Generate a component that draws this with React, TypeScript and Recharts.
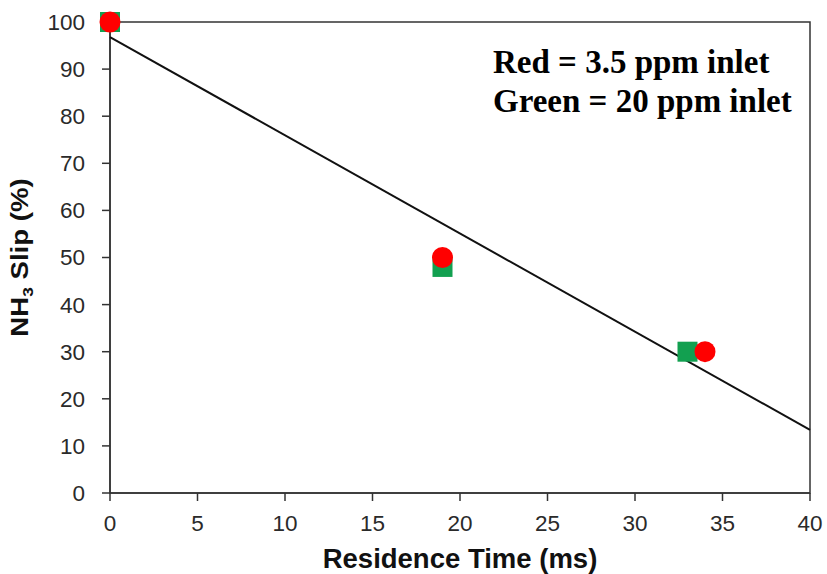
import { ScatterChart, Scatter, XAxis, YAxis, ReferenceArea } from "recharts";

// measured points
const redX = [0, 19, 34];
const redY = [100, 50, 30];
const greenX = [0, 19, 33];
const greenY = [100, 48, 30];
// linear fit line end points
const fitX = [0, 40];
const fitY = [96.8, 13.4];

const xTicks = [0, 5, 10, 15, 20, 25, 30, 35, 40];
const yTicks = [0, 10, 20, 30, 40, 50, 60, 70, 80, 90, 100];

const zip = (xs: number[], ys: number[]) => xs.map((x, i) => ({ x, y: ys[i] }));

const AXIS = "#333";
const SANS = "'Liberation Sans', Arial, Helvetica, sans-serif";

const Square = (p: any) => (
  <rect x={p.cx - 10} y={p.cy - 10} width={20} height={20} fill="#12A050" />
);
const Dot = (p: any) => <circle cx={p.cx} cy={p.cy} r={10.5} fill="#FF0000" />;
const NoMark = () => <g />;

export default function App() {
  return (
    <div style={{ position: "absolute", left: 0, top: 0, width: 827, height: 574, background: "#fff" }}>
      <ScatterChart width={827} height={574} margin={{ top: 22, right: 17, left: 0, bottom: 0 }}>
        <XAxis
          type="number"
          dataKey="x"
          domain={[0, 40]}
          ticks={xTicks}
          height={81}
          tickSize={8}
          tickMargin={14}
          stroke={AXIS}
          strokeWidth={1.5}
          tick={{ fontSize: 22.5, fill: "#2a2a2a", fontFamily: SANS }}
          label={{
            content: (props: any) => {
              const vb = props.viewBox;
              return (
                <text
                  x={vb.x + vb.width / 2}
                  y={vb.y + 75}
                  textAnchor="middle"
                  fontFamily={SANS}
                  fontWeight="bold"
                  fontSize={27.5}
                  fill="#111"
                >
                  Residence Time (ms)
                </text>
              );
            },
          }}
        />
        <YAxis
          type="number"
          dataKey="y"
          domain={[0, 100]}
          ticks={yTicks}
          width={110}
          tickSize={8}
          tickMargin={17}
          stroke={AXIS}
          strokeWidth={1.5}
          tick={{ fontSize: 22.5, fill: "#2a2a2a", fontFamily: SANS }}
          label={{
            content: (props: any) => {
              const vb = props.viewBox;
              const cx = vb.x + 28;
              const cy = vb.y + vb.height / 2;
              return (
                <text
                  transform={`translate(${cx},${cy}) rotate(-90) scale(1.15,1)`}
                  textAnchor="middle"
                  fontFamily={SANS}
                  fontWeight="bold"
                  fontSize={24}
                  fill="#111"
                >
                  NH<tspan fontSize={15} dy={5}>3</tspan>
                  <tspan dy={-5}> Slip (%)</tspan>
                </text>
              );
            },
          }}
        />
        <ReferenceArea x1={0} x2={40} y1={0} y2={100} fill="none" stroke={AXIS} strokeWidth={1.5} ifOverflow="visible" />
        <Scatter
          data={zip(fitX, fitY)}
          line={{ stroke: "#111", strokeWidth: 2 }}
          shape={NoMark}
          isAnimationActive={false}
        />
        <Scatter data={zip(greenX, greenY)} shape={Square} isAnimationActive={false} />
        <Scatter data={zip(redX, redY)} shape={Dot} isAnimationActive={false} />
      </ScatterChart>
      <svg width={827} height={574} style={{ position: "absolute", left: 0, top: 0, pointerEvents: "none" }}>
        <text
          fontFamily="'Liberation Serif', 'Times New Roman', serif"
          fontWeight="bold"
          fontSize={33}
          fill="#000"
        >
          <tspan x={493} y={73}>Red = 3.5 ppm inlet</tspan>
          <tspan x={493} y={112}>Green = 20 ppm inlet</tspan>
        </text>
      </svg>
    </div>
  );
}
